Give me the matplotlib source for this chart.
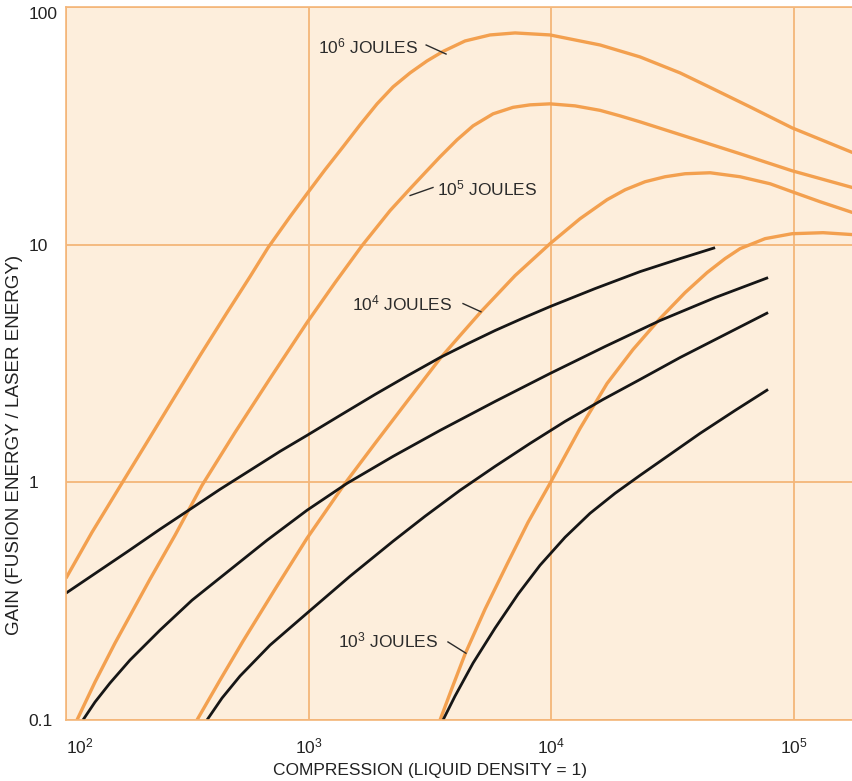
import matplotlib
matplotlib.use("Agg")
import matplotlib.pyplot as plt

plt.rcParams['font.family'] = ['Liberation Sans', 'DejaVu Sans']
plt.rcParams['mathtext.fontset'] = 'custom'
plt.rcParams['mathtext.rm'] = 'Liberation Sans'
plt.rcParams['mathtext.it'] = 'Liberation Sans:italic'
plt.rcParams['mathtext.bf'] = 'Liberation Sans:bold'

# orange curves (laser energy in joules): compression vs gain
x_1e6 = [100, 128.0, 167.0, 211.8, 268.5, 356.9, 461.3, 573.9, 680.8, 838.9, 985.8, 1169.5, 1388.1,
         1631, 1917, 2231, 2622, 3081, 3586, 4420, 5604, 7104, 9906, 15925, 23280, 34045, 43980, 66170,
         98580, 176000]
g_1e6 = [0.395, 0.6164, 0.962, 1.430, 2.127, 3.417, 5.179, 7.337, 9.714, 13.11, 16.38, 20.66, 25.81,
         31.93, 39.13, 46.12, 52.81, 59.31, 65.02, 71.96, 76.28, 77.78, 76.28, 69.22, 61.65, 52.81, 46.56, 37.99,
         31.01, 24.36]

x_1e5 = [111.0, 131.7, 159.2, 222.0, 281.5, 363.8, 497.7, 693.8, 985.8, 1286.6, 1661.4, 2168, 2622, 3022,
         3486, 4097, 4769, 5766, 6971, 8193, 9906, 12560, 15925, 19250, 23280, 37440, 60170, 98580, 176000]
g_1e5 = [0.1, 0.1444, 0.2106, 0.3913, 0.5988, 0.9714, 1.622, 2.735, 4.702, 6.923, 9.903, 13.90, 17.19, 20.07,
         23.43, 27.62, 31.62, 35.52, 37.83, 38.75, 39.13, 38.37, 36.74, 34.83, 32.87, 28.16, 24.13, 20.46, 17.36]

x_1e4 = [346.9, 431.6, 537.0, 727.7, 985.8, 1414.4, 1880.3, 2548, 3486, 4214, 5194, 7104, 9906, 13170,
         17020, 20200, 24420, 29520, 35690, 45270, 60170, 80030, 98580, 128600, 176000]
g_1e4 = [0.1, 0.1472, 0.2147, 0.3551, 0.5816, 0.9904, 1.458, 2.189, 3.319, 4.146, 5.282, 7.408, 10.10, 12.86,
         15.46, 17.02, 18.40, 19.31, 19.88, 20.07, 19.31, 18.04, 16.70, 15.16, 13.63]

x_1e3 = [3486, 3906, 4420, 5344, 6586, 8039, 9906, 13170, 17020, 21780, 28140, 35690, 43980, 52170,
         60170, 76300, 98580, 132300, 176000]
g_1e3 = [0.1, 0.1363, 0.1894, 0.2927, 0.4522, 0.6790, 0.9904, 1.686, 2.606, 3.622, 4.889, 6.284, 7.627, 8.735,
         9.621, 10.60, 11.12, 11.23, 11.02]

# black curves
x_k1 = [100, 134.2, 180.2, 244.1, 324.7, 431.6, 573.9, 763.0, 985.8, 1348.7, 1880.3, 2572, 3486, 4547,
        5876, 7594, 9906, 15185, 23280, 34045, 47460]
g_k1 = [0.3418, 0.4186, 0.5129, 0.6348, 0.7701, 0.9346, 1.123, 1.350, 1.576, 1.912, 2.343, 2.817, 3.351, 3.837,
        4.352, 4.889, 5.489, 6.534, 7.701, 8.735, 9.714]

x_k2 = [117.5, 131.7, 151.8, 183.6, 244.1, 330.9, 461.3, 674.4, 985.8, 1441.6, 2231, 3486, 5876, 9906,
        16700, 28140, 47460, 78500]
g_k2 = [0.1, 0.1190, 0.1430, 0.1787, 0.2388, 0.3192, 0.4186, 0.5707, 0.7630, 0.9904, 1.286, 1.654, 2.189, 2.871,
        3.728, 4.794, 5.988, 7.267]

x_k3 = [381.4, 439.9, 521.9, 693.8, 985.8, 1483, 2231, 3022, 4214, 5876, 8193, 11420, 16385, 23280,
        34045, 52170, 78500]
g_k3 = [0.1, 0.1237, 0.1531, 0.2065, 0.2815, 0.4027, 0.5651, 0.7197, 0.9256, 1.167, 1.458, 1.804, 2.232, 2.709,
        3.351, 4.186, 5.179]

x_k4 = [3586, 4019, 4769, 5876, 7310, 9007, 11420, 14480, 18360, 23280, 30950, 41160, 57400, 78500]
g_k4 = [0.1, 0.1261, 0.1736, 0.2435, 0.3384, 0.4479, 0.5872, 0.7408, 0.8992, 1.070, 1.311, 1.607, 2.007, 2.459]

xticks = [1e2, 1e3, 1e4, 1e5]
xtick_labels = ['$\\mathregular{10^2}$', '$\\mathregular{10^3}$', '$\\mathregular{10^4}$', '$\\mathregular{10^5}$']
yticks = [0.1, 1, 10, 100]
ytick_labels = ['0.1', '1', '10', '100']

BG = '#fdeedc'
ORANGE = '#f3a04f'
GRID = '#f4b679'
BLACK = '#161616'
TEXT = '#2b2b2b'

fig = plt.figure(figsize=(8.53, 7.81), dpi=100)
ax = fig.add_axes([66 / 853, 61 / 781, 787 / 853, 713 / 781])
ax.set_facecolor(BG)
ax.set_xscale('log')
ax.set_yscale('log')
ax.set_xlim(100, 175800)
ax.set_ylim(0.1, 100)

ax.grid(True, which='major', color=GRID, lw=1.3)
ax.minorticks_off()
ax.set_axisbelow(True)
for s in ax.spines.values():
    s.set_color(GRID)
    s.set_linewidth(1.2)

# curves
for xs, gs in [(x_1e6, g_1e6), (x_1e5, g_1e5), (x_1e4, g_1e4), (x_1e3, g_1e3)]:
    ax.plot(xs, gs, color=ORANGE, lw=2.4, solid_capstyle='butt', solid_joinstyle='round')
for xs, gs in [(x_k1, g_k1), (x_k2, g_k2), (x_k3, g_k3), (x_k4, g_k4)]:
    ax.plot(xs, gs, color=BLACK, lw=2.0, solid_capstyle='butt', solid_joinstyle='round')

# labels with leader lines
labels = [
    ('$\\mathregular{10^6}$ JOULES', (1094, 68.5), [(3055, 69.2), (3690, 63.4)]),
    ('$\\mathregular{10^5}$ JOULES', (3388, 17.2), [(3260, 17.4), (2624, 16.1)]),
    ('$\\mathregular{10^4}$ JOULES', (1510, 5.65), [(4335, 5.65), (5140, 5.22)]),
    ('$\\mathregular{10^3}$ JOULES', (1325, 0.217), [(3758, 0.213), (4457, 0.191)]),
]
for txt, pos, leader in labels:
    ax.text(pos[0], pos[1], txt, ha='left', va='center', fontsize=12.5, color=TEXT)
    ax.plot([leader[0][0], leader[1][0]], [leader[0][1], leader[1][1]], color=TEXT, lw=1.0)

ax.set_xticks(xticks)
ax.set_xticklabels(xtick_labels, fontsize=12.5, color='#222222')
ax.set_yticks(yticks)
ax.set_yticklabels(ytick_labels, fontsize=12.5, color='#222222', ha='left')
ax.tick_params(axis='x', length=0, pad=12)
ax.tick_params(axis='y', length=0, pad=27)
ax.get_xticklabels()[0].set_ha('left')
ax.get_yticklabels()[-1].set_va('top')

fig.text(430 / 853, 11 / 781, 'COMPRESSION (LIQUID DENSITY = 1)', ha='center', va='center',
         fontsize=12.5, color='#222222')
fig.text(15 / 853, (781 - 445) / 781, 'GAIN (FUSION ENERGY / LASER ENERGY)', ha='center', va='center',
         rotation=90, fontsize=13.5, color='#222222')

plt.savefig('out.png', dpi=100)
